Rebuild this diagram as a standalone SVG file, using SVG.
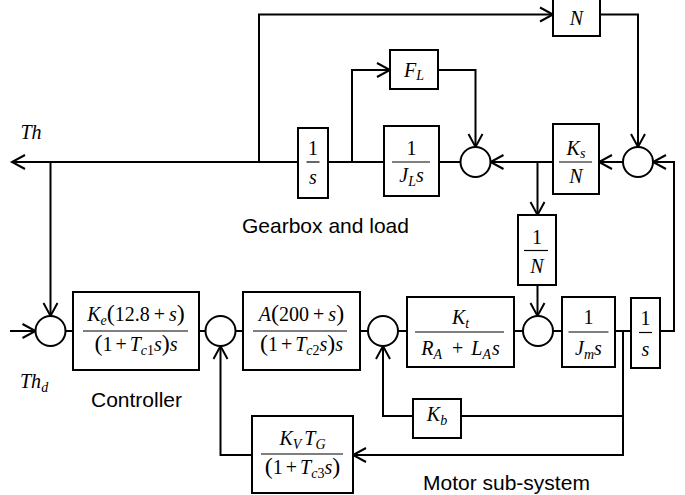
<svg xmlns="http://www.w3.org/2000/svg" width="685" height="495" viewBox="0 0 685 495">
<style>
.box{fill:#fff;stroke:#000;stroke-width:2}
.sum{fill:#fff;stroke:#000;stroke-width:2}
.c{fill:none;stroke:#000;stroke-width:2}
.fl{stroke:#000;stroke-width:1.2}
.m{font-family:"Liberation Serif","Times New Roman",serif;font-size:20px;fill:#000}
.it{font-style:italic}
.sb{font-size:14px;font-style:italic}
.sn{font-size:14px;font-style:normal}
.p{font-size:24px;font-style:normal}
.lbl{font-family:"Liberation Sans",Arial,sans-serif;font-size:21px;fill:#000}
</style>
<defs>
<marker id="arr" viewBox="-15 -9 17 18" refX="0" refY="0" markerWidth="17" markerHeight="18" markerUnits="userSpaceOnUse" orient="auto" overflow="visible">
<path d="M-13,-7 L0,0 L-13,7" fill="none" stroke="#000" stroke-width="2"/>
</marker>
</defs>
<rect width="685" height="495" fill="#fff"/>
<g id="connectors" class="c">
<path d="M298,162 H12" marker-end="url(#arr)"/>
<path d="M259,162 V14.5 H553" marker-end="url(#arr)"/>
<path d="M600,14.5 H638 V147" marker-end="url(#arr)"/>
<path d="M384,162 H328"/>
<path d="M352,162 V70 H390" marker-end="url(#arr)"/>
<path d="M438,70 H475.5 V147" marker-end="url(#arr)"/>
<path d="M460.5,162 H439"/>
<path d="M553,162 H490.5" marker-end="url(#arr)"/>
<path d="M537.5,162 V215" marker-end="url(#arr)"/>
<path d="M623,162 H599" marker-end="url(#arr)"/>
<path d="M660,331 H674 V162 H653" marker-end="url(#arr)"/>
<path d="M50.5,162 V316" marker-end="url(#arr)"/>
<path d="M10,331 H35.5" marker-end="url(#arr)"/>
<path d="M65.5,331 H73"/>
<path d="M199,331 H205.5"/>
<path d="M235.5,331 H243"/>
<path d="M360,331 H368"/>
<path d="M398,331 H407"/>
<path d="M514,331 H523"/>
<path d="M537.5,285 V316" marker-end="url(#arr)"/>
<path d="M553,331 H562"/>
<path d="M615,331 H631"/>
<path d="M623,331 V455 H353" marker-end="url(#arr)"/>
<path d="M623,416 H461"/>
<path d="M413,416 H383 V346" marker-end="url(#arr)"/>
<path d="M252,455 H220.5 V346" marker-end="url(#arr)"/>
</g>

<g id="sum-load"><circle class="sum" cx="475.5" cy="162" r="15"/></g>
<g id="sum-spring"><circle class="sum" cx="638" cy="162" r="15"/></g>
<g id="sum-error"><circle class="sum" cx="50.5" cy="331" r="15"/></g>
<g id="sum-rate"><circle class="sum" cx="220.5" cy="331" r="15"/></g>
<g id="sum-voltage"><circle class="sum" cx="383" cy="331" r="15"/></g>
<g id="sum-torque"><circle class="sum" cx="538" cy="331" r="15"/></g>

<g id="block-N">
<rect class="box" x="553" y="-6" width="47" height="42"/>
<text class="m it" x="576.5" y="25" text-anchor="middle">N</text>
</g>
<g id="block-FL">
<rect class="box" x="390" y="50" width="48" height="39"/>
<text class="m it" x="414" y="76.5" text-anchor="middle">F<tspan class="sb" dy="3.5">L</tspan></text>
</g>
<g id="block-int-load">
<rect class="box" x="298" y="128" width="30" height="70"/>
<text class="m" x="313" y="155" text-anchor="middle">1</text>
<line class="fl" x1="306.5" y1="162" x2="319.5" y2="162"/>
<text class="m it" x="313" y="183.5" text-anchor="middle">s</text>
</g>
<g id="block-JL">
<rect class="box" x="384" y="126" width="55" height="70"/>
<text class="m" x="411.5" y="155" text-anchor="middle">1</text>
<line class="fl" x1="392" y1="162" x2="430" y2="162"/>
<text class="m it" x="411.5" y="182" text-anchor="middle">J<tspan class="sb" dy="3.5">L</tspan><tspan dy="-3.5">s</tspan></text>
</g>
<g id="block-KsN">
<rect class="box" x="553" y="124" width="46" height="70"/>
<text class="m it" x="576" y="154.5" text-anchor="middle">K<tspan class="sb" dy="3.5">s</tspan></text>
<line class="fl" x1="559" y1="162" x2="592" y2="162"/>
<text class="m it" x="576" y="183" text-anchor="middle">N</text>
</g>
<g id="block-invN">
<rect class="box" x="518" y="215" width="38" height="70"/>
<text class="m" x="537" y="243.5" text-anchor="middle">1</text>
<line class="fl" x1="524" y1="250.5" x2="548" y2="250.5"/>
<text class="m it" x="537" y="272.5" text-anchor="middle">N</text>
</g>

<g id="block-controller">
<rect class="box" x="73" y="292" width="126" height="78"/>
<text class="m" x="136" y="321" text-anchor="middle"><tspan class="it">K</tspan><tspan class="sb" dy="3.5">e</tspan><tspan class="p" dy="-3.5">(</tspan>12.8<tspan dx="4">+</tspan><tspan class="it" dx="4">s</tspan><tspan class="p">)</tspan></text>
<line class="fl" x1="83" y1="331" x2="188" y2="331"/>
<text class="m" x="136" y="351" text-anchor="middle"><tspan class="p">(</tspan>1<tspan dx="3">+</tspan><tspan class="it" dx="3">T</tspan><tspan class="sb" dy="3.5">c</tspan><tspan class="sn">1</tspan><tspan class="it" dy="-3.5">s</tspan><tspan class="p">)</tspan><tspan class="it">s</tspan></text>
</g>
<g id="block-amplifier">
<rect class="box" x="243" y="292" width="117" height="78"/>
<text class="m" x="301.5" y="321" text-anchor="middle"><tspan class="it">A</tspan><tspan class="p">(</tspan>200<tspan dx="4">+</tspan><tspan class="it" dx="4">s</tspan><tspan class="p">)</tspan></text>
<line class="fl" x1="253" y1="331" x2="347" y2="331"/>
<text class="m" x="301.5" y="351" text-anchor="middle"><tspan class="p">(</tspan>1<tspan dx="3">+</tspan><tspan class="it" dx="3">T</tspan><tspan class="sb" dy="3.5">c</tspan><tspan class="sn">2</tspan><tspan class="it" dy="-3.5">s</tspan><tspan class="p">)</tspan><tspan class="it">s</tspan></text>
</g>
<g id="block-armature">
<rect class="box" x="407" y="297" width="107" height="70"/>
<text class="m it" x="460.5" y="324" text-anchor="middle">K<tspan class="sb" dy="3.5">t</tspan></text>
<line class="fl" x1="415" y1="332" x2="504" y2="332"/>
<text class="m" x="460.5" y="355" text-anchor="middle"><tspan class="it">R</tspan><tspan class="sb" dy="3.5">A</tspan><tspan dy="-3.5" dx="10">+</tspan><tspan class="it" dx="8">L</tspan><tspan class="sb" dy="3.5">A</tspan><tspan class="it" dy="-3.5" dx="1">s</tspan></text>
</g>
<g id="block-Jm">
<rect class="box" x="562" y="297" width="53" height="70"/>
<text class="m" x="588.5" y="324" text-anchor="middle">1</text>
<line class="fl" x1="568.5" y1="332" x2="608.5" y2="332"/>
<text class="m it" x="588.5" y="355" text-anchor="middle">J<tspan class="sb" dy="3.5">m</tspan><tspan dy="-3.5">s</tspan></text>
</g>
<g id="block-int-motor">
<rect class="box" x="631" y="298" width="29" height="70"/>
<text class="m" x="645.5" y="325" text-anchor="middle">1</text>
<line class="fl" x1="639" y1="332.5" x2="652" y2="332.5"/>
<text class="m it" x="645.5" y="355.5" text-anchor="middle">s</text>
</g>
<g id="block-Kb">
<rect class="box" x="413" y="399" width="48" height="39"/>
<text class="m it" x="437" y="421" text-anchor="middle">K<tspan class="sb" dy="3.5">b</tspan></text>
</g>
<g id="block-tacho">
<rect class="box" x="252" y="416" width="101" height="77"/>
<text class="m it" x="302.5" y="445" text-anchor="middle">K<tspan class="sb" dy="3.5">V</tspan><tspan dy="-3.5" dx="3">T</tspan><tspan class="sb" dy="3.5">G</tspan></text>
<line class="fl" x1="261" y1="454" x2="343" y2="454"/>
<text class="m" x="302.5" y="474" text-anchor="middle"><tspan class="p">(</tspan>1<tspan dx="3">+</tspan><tspan class="it" dx="3">T</tspan><tspan class="sb" dy="3.5">c</tspan><tspan class="sn">3</tspan><tspan class="it" dy="-3.5">s</tspan><tspan class="p">)</tspan></text>
</g>

<g id="labels">
<text class="m it" x="20.5" y="139">Th</text>
<text class="m it" x="20" y="388">Th<tspan class="sb" dy="3.5">d</tspan></text>
<text class="lbl" x="242" y="233">Gearbox and load</text>
<text class="lbl" x="91" y="407">Controller</text>
<text class="lbl" x="423" y="490">Motor sub-system</text>
</g>
</svg>
